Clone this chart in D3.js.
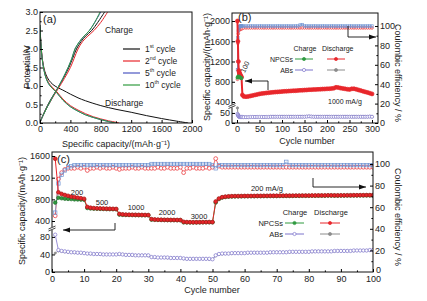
<!DOCTYPE html>
<html>
<head>
<meta charset="utf-8">
<script src="https://cdn.jsdelivr.net/npm/d3@7"></script>
<style>
  body { margin: 0; background: #fff; }
  text { font-family: "Liberation Sans", Arial, sans-serif; fill: #222; }
</style>
</head>
<body>
<svg id="chart" width="427" height="301"></svg>
<script>
// ---------- data: panel (a) voltage profiles ----------
var a1DisCap = [0, 10, 25, 50, 80, 120, 170, 230, 300, 400, 500, 600, 800, 1000, 1200, 1400, 1600, 1800, 1950];
var a1DisPot = [2.6, 2.15, 1.8, 1.5, 1.3, 1.15, 1.04, 0.96, 0.89, 0.78, 0.68, 0.6, 0.47, 0.37, 0.29, 0.2, 0.12, 0.05, 0.0];
var a1ChgCap = [0, 40, 100, 160, 230, 300, 380, 430, 480, 540, 600, 680, 760, 850];
var a1ChgPot = [0.02, 0.22, 0.48, 0.7, 0.93, 1.18, 1.5, 1.75, 2.0, 2.2, 2.35, 2.5, 2.72, 3.0];

var a2DisCap = [0, 8, 20, 40, 70, 110, 160, 220, 300, 400, 500, 600, 700, 800, 900, 1000, 1040];
var a2DisPot = [2.65, 2.3, 1.95, 1.6, 1.3, 1.1, 0.97, 0.85, 0.65, 0.47, 0.35, 0.25, 0.17, 0.11, 0.06, 0.02, 0.0];
var a2ChgCap = [0, 40, 100, 170, 240, 320, 400, 450, 500, 560, 630, 710, 800, 890];
var a2ChgPot = [0.02, 0.2, 0.45, 0.7, 0.93, 1.2, 1.5, 1.75, 2.0, 2.2, 2.35, 2.5, 2.72, 3.0];

var a5DisCap = [0, 8, 20, 40, 70, 110, 160, 220, 300, 400, 500, 600, 700, 800, 900, 990];
var a5DisPot = [2.65, 2.28, 1.92, 1.57, 1.27, 1.07, 0.94, 0.82, 0.62, 0.44, 0.32, 0.22, 0.15, 0.09, 0.04, 0.0];
var a5ChgCap = [0, 40, 100, 160, 220, 300, 370, 420, 460, 520, 580, 650, 720, 800];
var a5ChgPot = [0.02, 0.2, 0.45, 0.68, 0.9, 1.2, 1.5, 1.75, 2.0, 2.2, 2.35, 2.5, 2.72, 3.0];

var a10DisCap = [0, 8, 20, 40, 70, 110, 160, 220, 300, 400, 500, 600, 700, 800, 900, 1000];
var a10DisPot = [2.65, 2.28, 1.92, 1.57, 1.27, 1.07, 0.94, 0.82, 0.62, 0.44, 0.32, 0.22, 0.15, 0.09, 0.04, 0.0];
var a10ChgCap = [0, 40, 100, 160, 220, 300, 370, 420, 460, 520, 580, 650, 720, 790];
var a10ChgPot = [0.02, 0.2, 0.45, 0.68, 0.9, 1.2, 1.5, 1.75, 2.0, 2.2, 2.35, 2.5, 2.72, 3.0];

// ---------- data: panel (b) long cycling at 1000 mA/g ----------
var bCycles = [1, 2, 3, 4, 5, 6, 7, 8, 9, 10, 12, 15, 20, 25, 30, 35, 40, 45, 50, 55, 60, 65, 70, 75, 80, 85, 90, 95, 100,
  105, 110, 115, 120, 125, 130, 135, 140, 145, 150, 155, 160, 165, 170, 175, 180, 185, 190, 195, 200,
  205, 210, 215, 220, 225, 230, 235, 240, 245, 250, 255, 260, 265, 270, 275, 280, 285, 290, 295, 300];
var bDisNP = [2000, 1600, 1200, 1020, 990, 960, 940, 920, 905, 890, 540, 510, 505, 510, 520, 530, 540, 550, 560,
  566, 572, 578, 583, 588, 592, 596, 600, 603, 606, 610, 613, 616, 619, 622, 624, 627, 630, 632, 635, 638,
  642, 644, 646, 648, 650, 652, 655, 657, 660, 662, 666, 672, 690, 685, 675, 668, 660, 652, 648, 660, 662,
  650, 638, 625, 612, 600, 588, 575, 560];
var bChgNP = [880, 900, 905, 900, 895, 890, 885, 880, 875, 870, 530, 502, 498, 503, 513, 523, 533, 543, 553,
  559, 565, 571, 576, 581, 585, 589, 593, 596, 599, 603, 606, 609, 612, 615, 617, 620, 623, 625, 628, 631,
  635, 637, 639, 641, 643, 645, 648, 650, 653, 655, 659, 665, 682, 678, 668, 661, 653, 645, 641, 653, 655,
  643, 631, 618, 605, 593, 581, 568, 553];
var bChgAB = [45, 40, 35, 32, 31, 30, 30, 30, 30, 30, 30, 29, 29, 29, 30, 30, 30, 30, 30, 30, 30, 30, 30, 31, 31,
  31, 31, 31, 31, 31, 31, 31, 31, 31, 31, 31, 31, 31, 31, 32, 33, 32, 31, 31, 31, 31, 31, 31, 31, 31, 31,
  31, 31, 31, 31, 31, 31, 31, 31, 31, 31, 31, 31, 31, 31, 31, 31, 32, 31];
var bDisAB = [75, 45, 38, 34, 32, 31, 31, 30, 30, 30, 30, 30, 29, 29, 30, 30, 30, 30, 30, 30, 30, 30, 30, 31, 31,
  31, 31, 31, 31, 31, 31, 31, 31, 31, 31, 31, 31, 31, 31, 32, 33, 32, 31, 31, 31, 31, 31, 31, 31, 31, 31,
  31, 31, 31, 31, 31, 31, 31, 31, 31, 31, 31, 31, 31, 31, 31, 31, 32, 31];
var bCeNP = [45, 82, 92, 95, 96, 97, 97, 97, 97, 97, 97.5, 98, 98, 98, 98, 98, 98, 98, 98, 98, 98, 98, 98, 98, 98,
  98, 98, 98, 98, 98, 98, 98, 98, 98, 98, 98, 98, 98, 98, 98, 98, 98, 98, 98, 98, 98, 98, 98, 98, 98, 98,
  98, 98, 98, 98, 98, 98, 98, 98, 98, 98, 98, 98, 98, 98, 98, 98, 98, 98];
var bCeAB = [55, 88, 95, 98, 99, 99.5, 100, 100, 100, 100, 100, 100, 100, 100, 100, 100, 100, 100, 100, 100, 100,
  100, 100, 100, 100, 100, 100, 100, 100, 100, 100, 100, 100, 100, 100, 100, 101, 101.5, 100, 100, 100, 100,
  100, 100, 100, 100, 100, 100, 100, 100, 100, 100, 100, 100, 100, 100, 100, 100, 100, 100, 100, 100, 100,
  100, 100, 100, 100, 100, 100];

// ---------- data: panel (c) rate capability ----------
var cCycles = d3.range(1, 101);
var cRates = ["200", "500", "1000", "2000", "3000"];
var cDisNP = [1550, 930, 900, 880, 865, 850, 840, 830, 820, 810,
  660, 645, 638, 635, 632, 630, 628, 626, 625, 623,
  530, 522, 518, 516, 515, 514, 513, 512, 511, 510,
  435, 428, 425, 423, 422, 421, 420, 420, 419, 418,
  385, 380, 378, 377, 377, 378, 379, 380, 381, 380,
  760, 815, 840, 850, 855, 858, 860, 860, 861, 862,
  862, 863, 863, 864, 864, 865, 865, 866, 866, 866,
  867, 867, 868, 868, 868, 869, 869, 870, 870, 870,
  871, 871, 872, 872, 872, 875, 874, 873, 873, 874,
  874, 875, 875, 876, 876, 877, 877, 878, 878, 879];
var cChgNP = [740, 830, 820, 812, 808, 805, 800, 798, 795, 792,
  640, 632, 628, 626, 624, 622, 620, 619, 618, 616,
  518, 514, 512, 511, 510, 509, 508, 507, 507, 506,
  425, 422, 420, 419, 418, 417, 416, 416, 415, 415,
  375, 374, 373, 373, 374, 375, 376, 377, 377, 376,
  740, 805, 832, 843, 849, 852, 854, 855, 856, 857,
  857, 858, 858, 859, 859, 860, 860, 861, 861, 861,
  862, 862, 863, 863, 863, 864, 864, 865, 865, 865,
  866, 866, 867, 867, 867, 869, 869, 868, 868, 869,
  869, 870, 870, 871, 871, 872, 872, 873, 873, 874];
var cChgAB = [85, 50, 48, 47, 46, 45, 45, 44, 44, 43,
  42, 42, 41, 41, 41, 40, 40, 40, 40, 40,
  41, 40, 39, 39, 39, 38, 38, 38, 38, 38,
  34, 34, 33, 33, 33, 33, 32, 32, 32, 32,
  31, 30, 30, 30, 30, 30, 30, 30, 30, 29,
  38, 41, 42, 42, 42, 43, 43, 43, 43, 43,
  44, 44, 44, 44, 44, 44, 44, 45, 45, 45,
  45, 45, 45, 46, 46, 46, 46, 46, 46, 46,
  47, 47, 47, 47, 47, 47, 47, 48, 48, 48,
  48, 48, 48, 49, 49, 49, 49, 49, 50, 50];
var cDisAB = [43, 48, 47, 46, 45, 45, 44, 44, 43, 43,
  42, 41, 41, 41, 40, 40, 40, 40, 40, 40,
  40, 40, 39, 39, 38, 38, 38, 38, 38, 37,
  34, 33, 33, 33, 33, 32, 32, 32, 32, 32,
  30, 30, 30, 30, 30, 30, 30, 30, 29, 29,
  37, 40, 41, 42, 42, 42, 43, 43, 43, 43,
  43, 44, 44, 44, 44, 44, 44, 44, 45, 45,
  45, 45, 45, 45, 46, 46, 46, 46, 46, 46,
  46, 47, 47, 47, 47, 47, 47, 47, 48, 48,
  48, 48, 48, 48, 49, 49, 49, 49, 49, 50];
var cCeNP = [52, 86, 92, 95, 96, 96, 96, 97, 96, 97,
  94, 96, 96, 97, 96, 97, 96, 96, 97, 96,
  95, 96, 96, 96, 97, 96, 96, 97, 96, 96,
  96, 96, 97, 96, 96, 97, 96, 96, 96, 97,
  92, 96, 96, 97, 96, 96, 96, 97, 96, 97,
  105, 98, 97, 97, 97, 97, 97, 97, 97, 97,
  97, 97, 97, 97, 97, 97, 97, 97, 97, 97,
  97, 97, 97, 97, 97, 97, 97, 97, 97, 97,
  97, 97, 97, 97, 97, 97, 97, 97, 97, 97,
  97, 97, 97, 97, 97, 97, 97, 97, 97, 97];
var cCeAB = [55, 82, 90, 94, 97, 98, 99, 99, 99, 99,
  99, 99, 99, 99, 99, 99, 99, 99, 99, 99,
  99, 99, 99, 99, 99, 99, 99, 99, 99, 99,
  100, 100, 100, 100, 100, 100, 100, 100, 100, 100,
  100, 100, 100, 100, 100, 100, 100, 100, 100, 99,
  96, 99, 99, 99, 99, 99, 99, 99, 99, 99,
  99, 99, 99, 99, 99, 99, 99, 99, 99, 99,
  99, 99, 102, 99, 99, 99, 99, 99, 99, 99,
  99, 99, 99, 99, 99, 99, 99, 99, 99, 99,
  99, 99, 99, 99, 99, 99, 99, 99, 99, 99];

// ---------- colours ----------
var RED = "#e8262b", GREEN = "#2f9a3f", BLUE = "#4c57c2", PURPLE = "#7d74cc", GREY = "#8c8c8c", LBLUE = "#6f93d2";

var svg = d3.select("#chart");

function frame(x0, y0, x1, y1) {
  svg.append("rect").attr("x", x0).attr("y", y0).attr("width", x1 - x0).attr("height", y1 - y0)
    .attr("fill", "none").attr("stroke", "#111").attr("stroke-width", 1);
}

function clip(id, x0, y0, x1, y1) {
  svg.append("clipPath").attr("id", id).append("rect")
    .attr("x", x0).attr("y", y0).attr("width", x1 - x0).attr("height", y1 - y0);
  return svg.append("g").attr("clip-path", "url(#" + id + ")");
}

function axis(gen, tx, ty, major, minor, fmt, pad) {
  var g = svg.append("g").attr("transform", "translate(" + tx + "," + ty + ")");
  g.call(gen.tickValues(major).tickSize(-3).tickPadding(pad || 2).tickFormat(fmt));
  g.selectAll("text").attr("font-size", 9).style("fill", "#222");
  g.select(".domain").remove();
  if (minor) {
    var m = svg.append("g").attr("transform", "translate(" + tx + "," + ty + ")");
    m.call(gen.tickValues(minor).tickSize(-1.6).tickFormat(""));
    m.select(".domain").remove();
  }
}

function series(g, xs, ys, x, y, o) {
  var pts = xs.map(function (v, i) { return [x(v), y(ys[i])]; });
  var line = d3.line();
  if (o.smooth) line.curve(d3.curveCatmullRom.alpha(0.5));
  g.append("path").attr("d", line(pts)).attr("fill", "none")
    .attr("stroke", o.color).attr("stroke-width", o.width || 1);
  if (!o.marker) return;
  if (o.marker == "square") {
    g.selectAll(null).data(pts).join("rect")
      .attr("x", function (d) { return d[0] - o.r; }).attr("y", function (d) { return d[1] - o.r; })
      .attr("width", o.r * 2).attr("height", o.r * 2)
      .attr("fill", "none").attr("stroke", o.color).attr("stroke-width", 0.7);
  } else {
    g.selectAll(null).data(pts).join("circle")
      .attr("cx", function (d) { return d[0]; }).attr("cy", function (d) { return d[1]; })
      .attr("r", o.r)
      .attr("fill", o.marker == "open" ? "#fff" : o.color)
      .attr("stroke", o.stroke || o.color).attr("stroke-width", 0.7);
  }
}

function label(x, y, str, size, anchor, rot) {
  var t = svg.append("text").attr("x", x).attr("y", y).attr("font-size", size)
    .attr("text-anchor", anchor || "start").attr("dominant-baseline", "central").text(str);
  if (rot) t.attr("transform", "rotate(" + rot + "," + x + "," + y + ")");
  return t;
}

function arrow(points, dir) {
  svg.append("path").attr("d", d3.line()(points)).attr("fill", "none").attr("stroke", "#111").attr("stroke-width", 0.9);
  var p = points[points.length - 1];
  var tri = dir < 0
    ? [[p[0], p[1]], [p[0] + 7, p[1] - 2.5], [p[0] + 7, p[1] + 2.5]]
    : [[p[0], p[1]], [p[0] - 7, p[1] - 2.5], [p[0] - 7, p[1] + 2.5]];
  svg.append("path").attr("d", d3.line()(tri) + "Z").attr("fill", "#111");
}

function breakMark(x, y) {
  svg.append("rect").attr("x", x - 3).attr("y", y - 1.5).attr("width", 6).attr("height", 3).attr("fill", "#fff");
  svg.append("path").attr("d", "M" + (x - 3.5) + "," + (y + 0.5) + "L" + (x + 3.5) + "," + (y - 2.5)
    + "M" + (x - 3.5) + "," + (y + 2.5) + "L" + (x + 3.5) + "," + (y - 0.5))
    .attr("stroke", "#111").attr("stroke-width", 0.8);
}

// superscript legend text such as 1st cycle
function supText(x, y, n, sup, rest, size) {
  var t = svg.append("text").attr("x", x).attr("y", y).attr("font-size", size).attr("dominant-baseline", "central");
  t.append("tspan").text(n);
  t.append("tspan").attr("dy", -3).attr("font-size", size * 0.62).text(sup);
  t.append("tspan").attr("dy", 3).text(rest);
}

// ================= panel (a) =================
var aX = d3.scaleLinear().domain([0, 2000]).range([40, 192]);
var aY = d3.scaleLinear().domain([0, 3]).range([123, 12]);
var ga = clip("clipA", 40, 12, 192, 123);
var aCycles = [
  { c: "#111", dc: a1DisCap, dp: a1DisPot, cc: a1ChgCap, cp: a1ChgPot, n: "1", s: "st" },
  { c: RED, dc: a2DisCap, dp: a2DisPot, cc: a2ChgCap, cp: a2ChgPot, n: "2", s: "nd" },
  { c: BLUE, dc: a5DisCap, dp: a5DisPot, cc: a5ChgCap, cp: a5ChgPot, n: "5", s: "th" },
  { c: GREEN, dc: a10DisCap, dp: a10DisPot, cc: a10ChgCap, cp: a10ChgPot, n: "10", s: "th" }
];
aCycles.forEach(function (d) {
  series(ga, d.dc, d.dp, aX, aY, { color: d.c, width: 1, smooth: true });
  series(ga, d.cc, d.cp, aX, aY, { color: d.c, width: 1, smooth: true });
});
frame(40, 12, 192, 123);
axis(d3.axisBottom(aX), 0, 123, [0, 400, 800, 1200, 1600, 2000], [200, 600, 1000, 1400, 1800], d3.format("d"), 3);
axis(d3.axisLeft(aY), 40, 0, [0, 0.5, 1, 1.5, 2, 2.5, 3], [0.25, 0.75, 1.25, 1.75, 2.25, 2.75], d3.format(".1f"));
aCycles.forEach(function (d, i) {
  var y = 49 + i * 12;
  svg.append("line").attr("x1", 123).attr("x2", 140).attr("y1", y).attr("y2", y).attr("stroke", d.c).attr("stroke-width", 1.2);
  supText(145, y, d.n, d.s, " cycle", 8.5);
});
label(105, 30, "Charge", 8.5);
label(105, 103, "Discharge", 8.5);
label(43, 19, "(a)", 11);
label(116, 144, "Specific capacity/(mAh·g⁻¹)", 9, "middle");
label(27, 67, "Potential/V", 9, "middle", -90);

// ================= panel (b) =================
var bX = d3.scaleLinear().domain([0, 300]).range([237, 372]);
var bY = d3.scaleLinear().domain([0, 82, 321, 2158]).range([123, 106.5, 106, 13]);
var bY2 = d3.scaleLinear().domain([0, 100]).range([123, 26]);
var gb = clip("clipB", 232, 13, 378, 123);
series(gb, bCycles, bCeNP, bX, bY2, { color: RED, width: 0.8, marker: "open", r: 1.3 });
series(gb, bCycles, bCeAB, bX, bY2, { color: LBLUE, width: 0.8, marker: "square", r: 1.2 });
series(gb, bCycles, bDisAB, bX, bY, { color: GREY, width: 1, marker: "dot", r: 1.2 });
series(gb, bCycles, bChgAB, bX, bY, { color: PURPLE, width: 1.2, marker: "open", r: 1.6 });
series(gb, bCycles, bDisNP, bX, bY, { color: RED, width: 2, marker: "dot", r: 2 });
series(gb, bCycles.slice(0, 10), bChgNP.slice(0, 10), bX, bY, { color: GREEN, width: 1, marker: "dot", r: 1.5 });
frame(232, 13, 378, 123);
axis(d3.axisBottom(bX), 0, 123, [0, 50, 100, 150, 200, 250, 300], [25, 75, 125, 175, 225, 275], d3.format("d"), 3);
axis(d3.axisLeft(bY), 232, 0, [0, 50, 400, 800, 1200, 1600, 2000], null, d3.format("d"));
axis(d3.axisRight(bY2), 378, 0, [0, 20, 40, 60, 80, 100], [10, 30, 50, 70, 90], d3.format("d"));
breakMark(232, 106);
label(238, 17, "(b)", 11);
label(245, 67, "100", 7, "middle", -65);
label(328, 101, "1000 mA/g", 7);
arrow([[268, 90], [268, 81], [245, 81]], -1);
arrow([[348, 26], [348, 37], [376, 37]], 1);
// legend (b)
label(305, 48, "Charge", 7, "middle");
label(322, 48, "Discharge", 7);
label(293, 59, "NPCSs", 7, "end");
label(293, 70, "ABs", 7, "end");
function legSeg(g, x1, x2, y, o) {
  series(g, [x1, (x1 + x2) / 2, x2], [y, y, y], function (v) { return v; }, function (v) { return v; },
    { color: o.color, width: 1, marker: null });
  series(g, [(x1 + x2) / 2], [y], function (v) { return v; }, function (v) { return v; },
    { color: o.color, width: 1, marker: o.marker, r: 1.6 });
}
var lg = svg.append("g");
legSeg(lg, 295, 313, 59, { color: GREEN, marker: "dot" });
legSeg(lg, 327, 345, 59, { color: RED, marker: "dot" });
legSeg(lg, 295, 313, 70, { color: PURPLE, marker: "open" });
legSeg(lg, 327, 345, 70, { color: GREY, marker: "dot" });
label(307, 141, "Cycle number", 9, "middle");
label(207, 67, "Specific capacity/(mAh·g⁻¹)", 9, "middle", -90);
label(398, 73, "Coulombic efficiency / %", 9, "middle", 90);

// ================= panel (c) =================
var cX = d3.scaleLinear().domain([0, 100]).range([52, 373]);
var cY = d3.scaleLinear().domain([0, 98, 271, 1674]).range([272, 229, 228, 152]);
var cY2 = d3.scaleLinear().domain([0, 100]).range([272, 164]);
var gc = clip("clipC", 52, 152, 373, 272);
series(gc, cCycles, cCeNP, cX, cY2, { color: RED, width: 0.7, marker: "open", r: 1.9 });
series(gc, cCycles, cCeAB, cX, cY2, { color: LBLUE, width: 0.7, marker: "square", r: 1.7 });
series(gc, cCycles, cDisAB, cX, cY, { color: GREY, width: 0.8, marker: "dot", r: 1.1 });
series(gc, cCycles, cChgAB, cX, cY, { color: PURPLE, width: 0.8, marker: "open", r: 1.7 });
series(gc, cCycles, cChgNP, cX, cY, { color: GREEN, width: 1, marker: "dot", r: 1.8, stroke: "#1f6e2a" });
series(gc, cCycles, cDisNP, cX, cY, { color: RED, width: 1, marker: "dot", r: 1.9, stroke: "#a81818" });
frame(52, 152, 373, 272);
axis(d3.axisBottom(cX), 0, 272, [0, 10, 20, 30, 40, 50, 60, 70, 80, 90, 100], [5, 15, 25, 35, 45, 55, 65, 75, 85, 95], d3.format("d"), 4);
axis(d3.axisLeft(cY), 52, 0, [0, 40, 80, 400, 800, 1200, 1600], null, d3.format("d"));
axis(d3.axisRight(cY2), 373, 0, [20, 40, 60, 80, 100], [10, 30, 50, 70, 90], d3.format("d"));
// right-axis zero sits just above the corner, as in the reference
label(376, 269.5, "0", 9);
breakMark(52, 228.5);
label(57, 159, "(c)", 11);
var rateXY = [[77, 192], [102, 202], [136, 207], [167, 212], [199, 216]];
cRates.forEach(function (r, i) { label(rateXY[i][0], rateXY[i][1], r, 7.5, "middle"); });
label(267, 188, "200 mA/g", 7.5, "middle");
arrow([[115, 223], [115, 230], [63, 230]], -1);
arrow([[313, 178], [313, 187], [366, 187]], 1);
label(295, 212, "Charge", 7.5, "middle");
label(331, 212, "Discharge", 7.5, "middle");
label(283, 223, "NPCSs", 7.5, "end");
label(283, 234, "ABs", 7.5, "end");
legSeg(lg, 285, 304, 223, { color: GREEN, marker: "dot" });
legSeg(lg, 320, 340, 223, { color: RED, marker: "dot" });
legSeg(lg, 285, 304, 234, { color: PURPLE, marker: "open" });
legSeg(lg, 320, 340, 234, { color: GREY, marker: "dot" });
label(212, 290, "Cycle number", 9, "middle");
label(22, 211, "Specific capacity/(mAh·g⁻¹)", 9, "middle", -90);
label(398, 217, "Coulombic efficiency / %", 9, "middle", 90);
</script>
</body>
</html>
